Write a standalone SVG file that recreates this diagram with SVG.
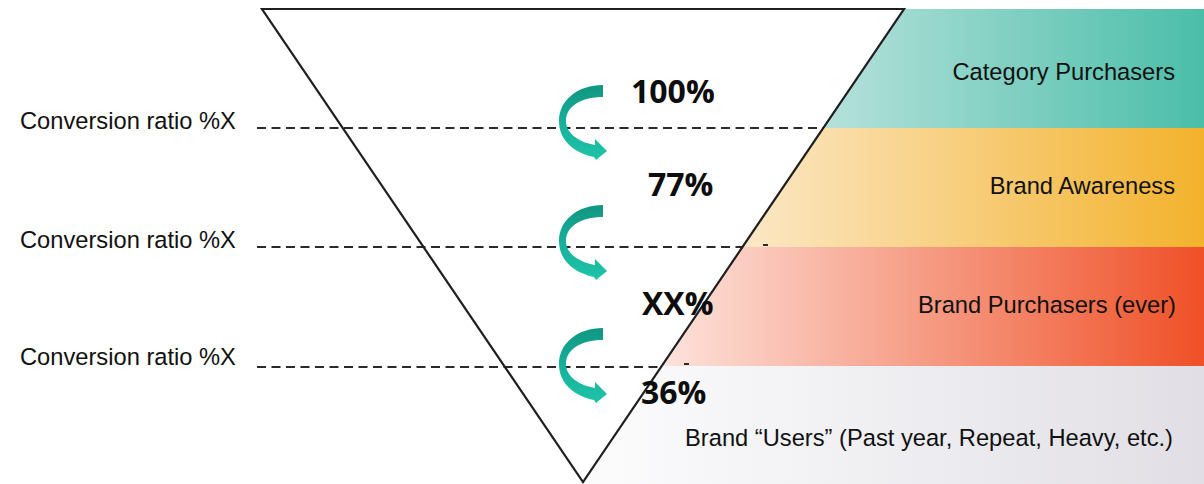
<svg xmlns="http://www.w3.org/2000/svg" width="1204" height="484" viewBox="0 0 1204 484">
  <defs>
    <linearGradient id="gTeal" gradientUnits="userSpaceOnUse" x1="823" y1="0" x2="1204" y2="0">
      <stop offset="0" stop-color="#b6e1db"/>
      <stop offset="1" stop-color="#4abea9"/>
    </linearGradient>
    <linearGradient id="gOrange" gradientUnits="userSpaceOnUse" x1="742" y1="0" x2="1204" y2="0">
      <stop offset="0" stop-color="#fce8c6"/>
      <stop offset="1" stop-color="#f3b22c"/>
    </linearGradient>
    <linearGradient id="gRed" gradientUnits="userSpaceOnUse" x1="661" y1="0" x2="1204" y2="0">
      <stop offset="0" stop-color="#fde3dc"/>
      <stop offset="1" stop-color="#ef5027"/>
    </linearGradient>
    <linearGradient id="gGray" gradientUnits="userSpaceOnUse" x1="583" y1="0" x2="1204" y2="0">
      <stop offset="0" stop-color="#fcfcfd"/>
      <stop offset="1" stop-color="#e1dfe5"/>
    </linearGradient>
    <linearGradient id="gArrow" x1="0" y1="0" x2="0" y2="1">
      <stop offset="0" stop-color="#109682"/>
      <stop offset="0.5" stop-color="#17b09a"/>
      <stop offset="1" stop-color="#1ec4a9"/>
    </linearGradient>
    <path id="curvedArrow" d="M 603 85 C 578 85, 559 100, 559 121 C 559 141, 575 153, 594 157 L 596 160 L 607 151 L 595 139 L 595 145 C 578 142, 566 133, 566 121 C 566 107, 580 97, 603 97 Z"/>
  </defs>
  <style>
    .lbl { font-family: "Liberation Sans", Arial, sans-serif; font-size: 23.7px; fill: #111; }
    .pct { font-family: "Open Sans", "Liberation Sans", sans-serif; font-size: 32px; font-weight: 700; fill: #0d0d0d; }
    .dash { stroke: #2a2a2a; stroke-width: 2.2; stroke-dasharray: 9 5.5; fill: none; }
    .tick { stroke: #2a2a2a; stroke-width: 2; fill: none; }
    .funnel { fill: none; stroke: #1f1f1f; stroke-width: 2.2; stroke-linejoin: miter; }
    .arrow { fill: url(#gArrow); }
  </style>

  <g id="band-category">
    <polygon points="904,9 1204,9 1204,128 823,128" fill="url(#gTeal)"/>
    <text class="lbl" x="1175" y="80" text-anchor="end">Category Purchasers</text>
  </g>
  <g id="band-awareness">
    <polygon points="823,128 1204,128 1204,247 742.4,247" fill="url(#gOrange)"/>
    <text class="lbl" x="1175" y="194" text-anchor="end">Brand Awareness</text>
  </g>
  <g id="band-purchasers">
    <polygon points="742.4,247 1204,247 1204,366 661.6,366" fill="url(#gRed)"/>
    <text class="lbl" x="1176" y="313" text-anchor="end">Brand Purchasers (ever)</text>
  </g>
  <g id="band-users">
    <polygon points="661.6,366 1204,366 1204,484 582,484" fill="url(#gGray)"/>
    <text class="lbl" x="1173" y="446" text-anchor="end">Brand “Users” (Past year, Repeat, Heavy, etc.)</text>
  </g>

  <g id="connectors">
    <line class="dash" x1="257" y1="128" x2="823" y2="128"/>
    <line class="dash" x1="257" y1="247" x2="743" y2="247"/>
    <line class="tick" x1="763" y1="245" x2="768" y2="245"/>
    <line class="dash" x1="257" y1="367" x2="661" y2="367"/>
    <line class="tick" x1="684" y1="364" x2="689" y2="364"/>
  </g>

  <g id="funnel">
    <polygon class="funnel" points="262,9 904,9 583,482"/>
  </g>

  <g id="arrows">
    <use href="#curvedArrow" class="arrow"/>
    <use href="#curvedArrow" class="arrow" transform="translate(0,120)"/>
    <use href="#curvedArrow" class="arrow" transform="translate(0,243)"/>
  </g>

  <g id="percentages">
    <text class="pct" x="631" y="103">100%</text>
    <text class="pct" x="648" y="196">77%</text>
    <text class="pct" x="642" y="315">XX%</text>
    <text class="pct" x="641" y="404">36%</text>
  </g>

  <g id="conversion-labels">
    <text class="lbl" x="20" y="129">Conversion ratio %X</text>
    <text class="lbl" x="20" y="248">Conversion ratio %X</text>
    <text class="lbl" x="20" y="365">Conversion ratio %X</text>
  </g>
</svg>
